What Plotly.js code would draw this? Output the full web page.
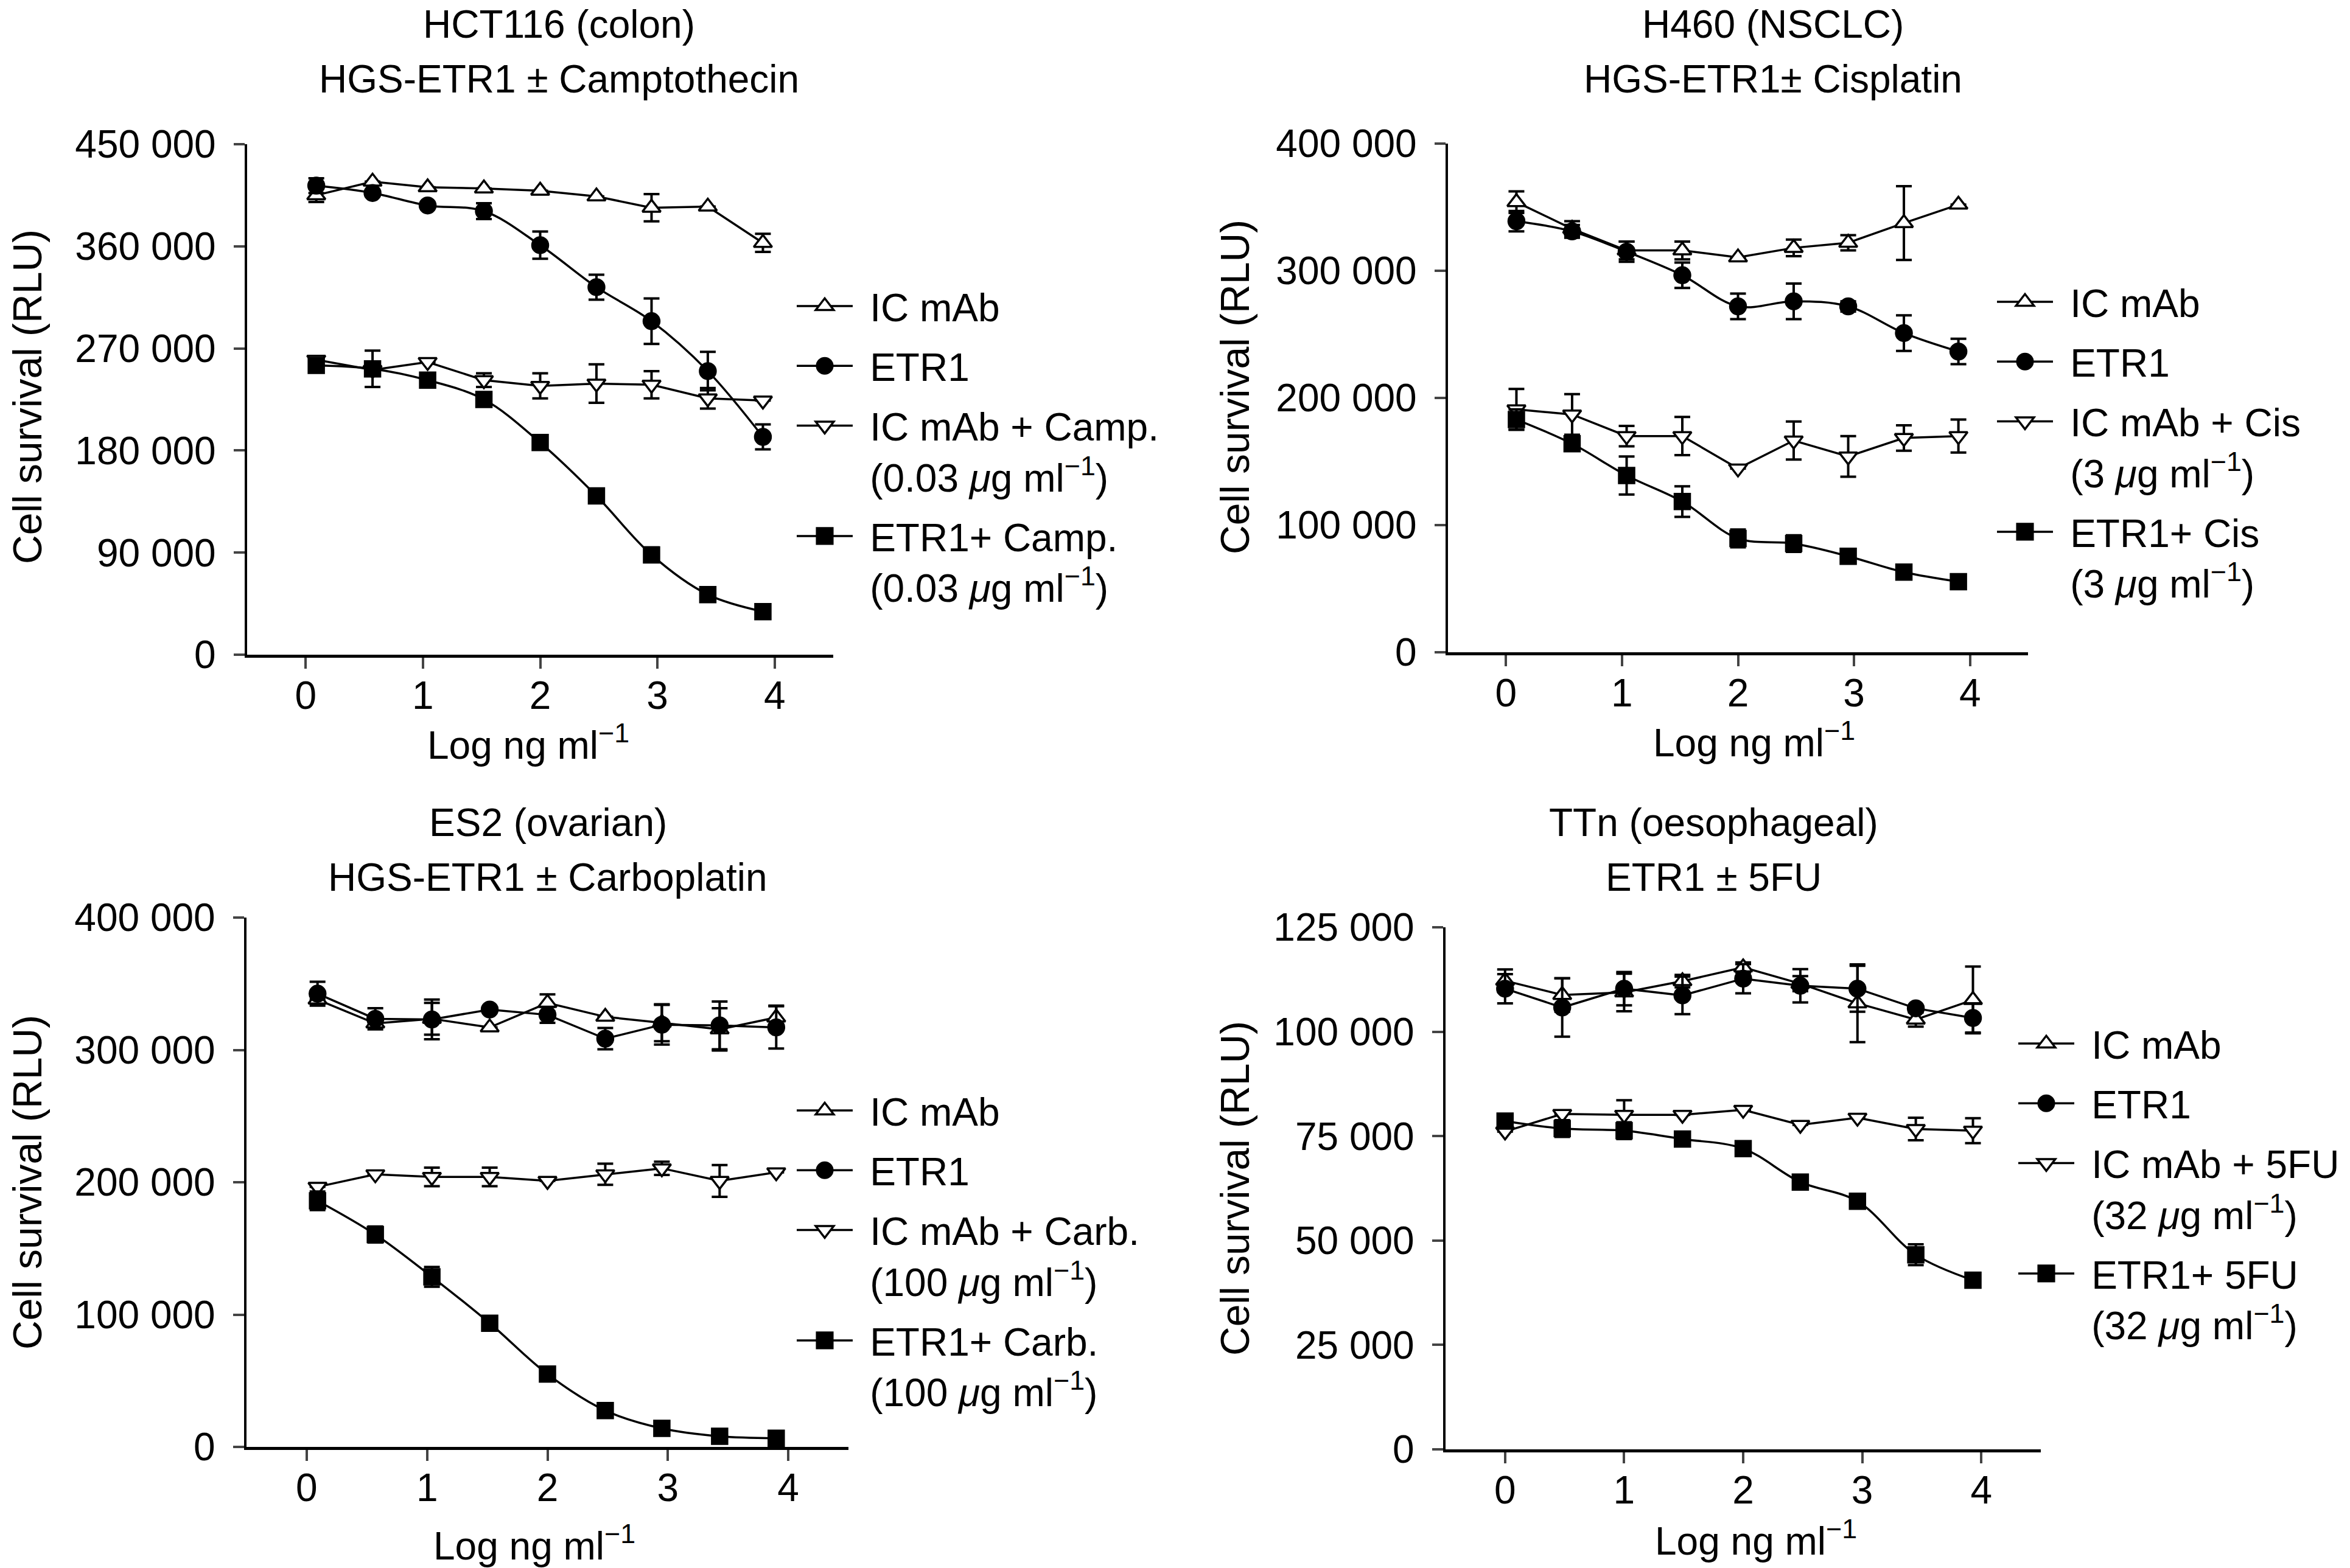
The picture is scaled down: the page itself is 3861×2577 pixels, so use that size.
<!DOCTYPE html>
<html>
<head>
<meta charset="utf-8">
<script src="https://cdn.plot.ly/plotly-3.0.1.min.js"></script>
<style>
  html, body { margin: 0; padding: 0; background: #fff; }
  #chart { width: 3861px; height: 2577px; }
</style>
</head>
<body>
<div id="chart"></div>
<script>
const doseLog = [0.09, 0.57, 1.04, 1.52, 2.0, 2.48, 2.95, 3.43, 3.9];
const doseLogTTn = [0.0, 0.48, 1.0, 1.49, 2.0, 2.48, 2.96, 3.45, 3.93];

// HCT116 (colon) - camptothecin
const hctIcMab = [405000, 417000, 412000, 411000, 409000, 404000, 394000, 395000, 363000];
const hctIcMabErr = [6000, 0, 0, 0, 0, 0, 12000, 0, 8000];
const hctEtr1 = [413500, 407000, 396000, 391000, 361000, 324000, 294000, 250000, 192000];
const hctEtr1Err = [6500, 0, 0, 7000, 12000, 11000, 20000, 17000, 11000];
const hctIcDrug = [260000, 251000, 258000, 242000, 237000, 239000, 238000, 226000, 224000];
const hctIcDrugErr = [0, 0, 0, 6000, 11000, 17000, 12000, 9000, 0];
const hctEtr1Drug = [255000, 252000, 242000, 225000, 187000, 140000, 88000, 53000, 38000];
const hctEtr1DrugErr = [0, 16000, 0, 0, 0, 6000, 6500, 0, 0];

// H460 (NSCLC) - cisplatin
const h460IcMab = [354000, 333000, 316000, 316000, 310500, 318000, 322000, 337500, 352000];
const h460IcMabErr = [8500, 6000, 7000, 7000, 0, 6500, 6000, 29000, 0];
const h460Etr1 = [339000, 331000, 315000, 296500, 272000, 276000, 272000, 251000, 236500];
const h460Etr1Err = [8000, 5000, 8000, 10000, 10000, 14000, 4000, 14000, 10000];
const h460IcDrug = [191000, 187000, 170000, 170000, 144500, 166500, 154000, 168500, 170000];
const h460IcDrugErr = [16000, 16000, 8000, 15000, 0, 15000, 16000, 10000, 13000];
const h460Etr1Drug = [183000, 164000, 139000, 118500, 89500, 85500, 75500, 63000, 55500];
const h460Etr1DrugErr = [8000, 0, 15000, 12000, 7000, 6500, 0, 0, 0];

// ES2 (ovarian) - carboplatin
const es2IcMab = [338000, 320000, 323500, 317000, 335500, 325000, 320500, 315500, 324500];
const es2IcMabErr = [0, 0, 12000, 0, 6500, 0, 14000, 16000, 9000];
const es2Etr1 = [342500, 323500, 323000, 330500, 326500, 308500, 319000, 318500, 317000];
const es2Etr1Err = [9000, 8000, 15000, 0, 6000, 8000, 15000, 18000, 16000];
const es2IcDrug = [196500, 206000, 204000, 204000, 201000, 206000, 210500, 201000, 207500];
const es2IcDrugErr = [0, 0, 7000, 7000, 0, 8000, 5000, 12000, 0];
const es2Etr1Drug = [186000, 160500, 128500, 93500, 55000, 27500, 14000, 8000, 6500];
const es2Etr1DrugErr = [7000, 6000, 7500, 0, 0, 0, 0, 0, 0];

// TTn (oesophageal) - 5FU
const ttnIcMab = [112200, 108800, 109400, 112100, 115400, 111500, 106800, 102900, 107600];
const ttnIcMabErr = [2700, 4000, 4500, 1500, 1200, 1800, 9300, 1700, 8000];
const ttnEtr1 = [110300, 105800, 110300, 108700, 112700, 111000, 110300, 105600, 103300];
const ttnEtr1Err = [3500, 7000, 4000, 4500, 3500, 4000, 5500, 0, 3500];
const ttnIcDrug = [76100, 80300, 80100, 80100, 81300, 77700, 79400, 76700, 76300];
const ttnIcDrugErr = [0, 0, 3500, 0, 0, 0, 0, 2700, 3000];
const ttnEtr1Drug = [78600, 76800, 76300, 74300, 72000, 64000, 59400, 46600, 40500];
const ttnEtr1DrugErr = [0, 2000, 2000, 0, 0, 0, 0, 2500, 0];

const xTicks = [0, 1, 2, 3, 4];

const W = 3861, H = 2577;
const FONT = '"Liberation Sans", Arial, Helvetica, sans-serif';
const fx = px => px / W;
const fy = px => 1 - px / H;

const SYMBOLS = {
  icmab: { symbol: 'triangle-up', color: '#fff', size: 26 },
  etr1: { symbol: 'circle', color: '#000', size: 26 },
  icdrug: { symbol: 'triangle-down', color: '#fff', size: 26 },
  etr1drug: { symbol: 'square', color: '#000', size: 25 }
};

// a little room between the legend line and its label
const PAD = '\u00a0\u200a';

function series(x, y, err, kind, n, name, smooth) {
  const s = SYMBOLS[kind];
  return {
    x: x, y: y,
    type: 'scatter',
    mode: 'lines+markers',
    name: name.split('<br>').map(t => PAD + t).join('<br>'),
    xaxis: n === 1 ? 'x' : 'x' + n,
    yaxis: n === 1 ? 'y' : 'y' + n,
    legend: n === 1 ? 'legend' : 'legend' + n,
    legendgroup: 'g' + n + kind,
    line: { color: '#000', width: 3.5, shape: smooth ? 'spline' : 'linear', smoothing: 1 },
    marker: { symbol: s.symbol, size: s.size, color: s.color, line: { color: '#000', width: 3.5 } },
    error_y: { type: 'data', array: err, visible: true, thickness: 4, width: 13, color: '#000' }
  };
}

const ug = (v) => '(' + v + ' <i>μ</i>g ml<sup>−1</sup>)';

const traces = [
  series(doseLog, hctIcMab, hctIcMabErr, 'icmab', 1, 'IC mAb', false),
  series(doseLog, hctEtr1, hctEtr1Err, 'etr1', 1, 'ETR1', true),
  series(doseLog, hctIcDrug, hctIcDrugErr, 'icdrug', 1, 'IC mAb + Camp.<br>' + ug('0.03'), false),
  series(doseLog, hctEtr1Drug, hctEtr1DrugErr, 'etr1drug', 1, 'ETR1+ Camp.<br>' + ug('0.03'), true),

  series(doseLog, h460IcMab, h460IcMabErr, 'icmab', 2, 'IC mAb', false),
  series(doseLog, h460Etr1, h460Etr1Err, 'etr1', 2, 'ETR1', true),
  series(doseLog, h460IcDrug, h460IcDrugErr, 'icdrug', 2, 'IC mAb + Cis<br>' + ug('3'), false),
  series(doseLog, h460Etr1Drug, h460Etr1DrugErr, 'etr1drug', 2, 'ETR1+ Cis<br>' + ug('3'), true),

  series(doseLog, es2IcMab, es2IcMabErr, 'icmab', 3, 'IC mAb', false),
  series(doseLog, es2Etr1, es2Etr1Err, 'etr1', 3, 'ETR1', false),
  series(doseLog, es2IcDrug, es2IcDrugErr, 'icdrug', 3, 'IC mAb + Carb.<br>' + ug('100'), false),
  series(doseLog, es2Etr1Drug, es2Etr1DrugErr, 'etr1drug', 3, 'ETR1+ Carb.<br>' + ug('100'), true),

  series(doseLogTTn, ttnIcMab, ttnIcMabErr, 'icmab', 4, 'IC mAb', false),
  series(doseLogTTn, ttnEtr1, ttnEtr1Err, 'etr1', 4, 'ETR1', false),
  series(doseLogTTn, ttnIcDrug, ttnIcDrugErr, 'icdrug', 4, 'IC mAb + 5FU<br>' + ug('32'), false),
  series(doseLogTTn, ttnEtr1Drug, ttnEtr1DrugErr, 'etr1drug', 4, 'ETR1+ 5FU<br>' + ug('32'), true)
];

function xAxis(left, right, anchor) {
  return {
    domain: [fx(left), fx(right)], anchor: anchor,
    range: [-0.5, 4.5], tickvals: xTicks, ticks: 'outside', ticklen: 18, tickwidth: 4,
    ticklabelstandoff: -10,
    showline: true, linewidth: 4.5, linecolor: '#000', showgrid: false, zeroline: false,
    tickfont: { family: FONT, size: 64, color: '#000' }, fixedrange: true
  };
}

function yAxis(top, bottom, anchor, max, step) {
  return {
    domain: [fy(bottom), fy(top)], anchor: anchor,
    range: [0, max], dtick: step, tick0: 0, tickformat: ',d',
    ticks: 'outside', ticklen: 18, tickwidth: 4, ticklabelstandoff: 16,
    showline: true, linewidth: 4.5, linecolor: '#000', showgrid: false, zeroline: false,
    tickfont: { family: FONT, size: 64, color: '#000' }, fixedrange: true
  };
}

function legendAt(lineX, rowY) {
  return {
    x: fx(lineX - 5), y: fy(rowY - 52), xanchor: 'left', yanchor: 'top',
    font: { family: FONT, size: 64, color: '#000' },
    itemwidth: 92, tracegroupgap: 12, valign: 'top', bgcolor: 'rgba(0,0,0,0)',
    itemclick: false, itemdoubleclick: false
  };
}

function text(str, x, y, size, angle) {
  return {
    text: str, x: fx(x), y: fy(y), xref: 'paper', yref: 'paper',
    xanchor: 'center', yanchor: 'middle', showarrow: false, textangle: angle || 0,
    font: { family: FONT, size: size, color: '#000' }
  };
}

const xTitle = 'Log ng ml<sup>−1</sup>';
const yTitle = 'Cell survival (RLU)';

const layout = {
  width: W, height: H, autosize: false,
  margin: { l: 0, r: 0, t: 0, b: 0 },
  paper_bgcolor: '#fff', plot_bgcolor: '#fff',
  separators: '. ',
  font: { family: FONT, size: 64, color: '#000' },
  showlegend: true,
  xaxis: xAxis(406, 1369, 'y'),
  yaxis: yAxis(237, 1076, 'x', 450000, 90000),
  xaxis2: xAxis(2379, 3332, 'y2'),
  yaxis2: yAxis(236, 1072, 'x2', 400000, 100000),
  xaxis3: xAxis(405, 1394, 'y3'),
  yaxis3: yAxis(1508, 2378, 'x3', 400000, 100000),
  xaxis4: xAxis(2375, 3353, 'y4'),
  yaxis4: yAxis(1524, 2382, 'x4', 125000, 25000),
  legend: legendAt(1309, 507),
  legend2: legendAt(3281, 500),
  legend3: legendAt(1309, 1829),
  legend4: legendAt(3316, 1719),
  annotations: [
    text('HCT116 (colon)', 918, 40, 64),
    text('HGS-ETR1 ± Camptothecin', 918, 130, 64),
    text('H460 (NSCLC)', 2913, 40, 64),
    text('HGS-ETR1± Cisplatin', 2913, 130, 64),
    text('ES2 (ovarian)', 900, 1352, 64),
    text('HGS-ETR1 ± Carboplatin', 900, 1442, 64),
    text('TTn (oesophageal)', 2815, 1352, 64),
    text('ETR1 ± 5FU', 2815, 1442, 64),

    text(xTitle, 868, 1220, 64),
    text(xTitle, 2882, 1216, 64),
    text(xTitle, 878, 2536, 64),
    text(xTitle, 2885, 2528, 64),

    text(yTitle, 45, 652, 66, -90),
    text(yTitle, 2029, 636, 66, -90),
    text(yTitle, 45, 1943, 66, -90),
    text(yTitle, 2029, 1953, 66, -90)
  ]
};

Plotly.newPlot('chart', traces, layout, { displayModeBar: false, staticPlot: true }).then(gd => {
  // plotly caps legend symbols at 16px; the figure's legends use the full marker size
  gd.querySelectorAll('.legendpoints path.scatterpts').forEach(p => {
    const t = p.getAttribute('transform') || '';
    p.setAttribute('transform', t + ' scale(1.6)');
    p.style.vectorEffect = 'non-scaling-stroke';
  });
});
</script>
</body>
</html>
